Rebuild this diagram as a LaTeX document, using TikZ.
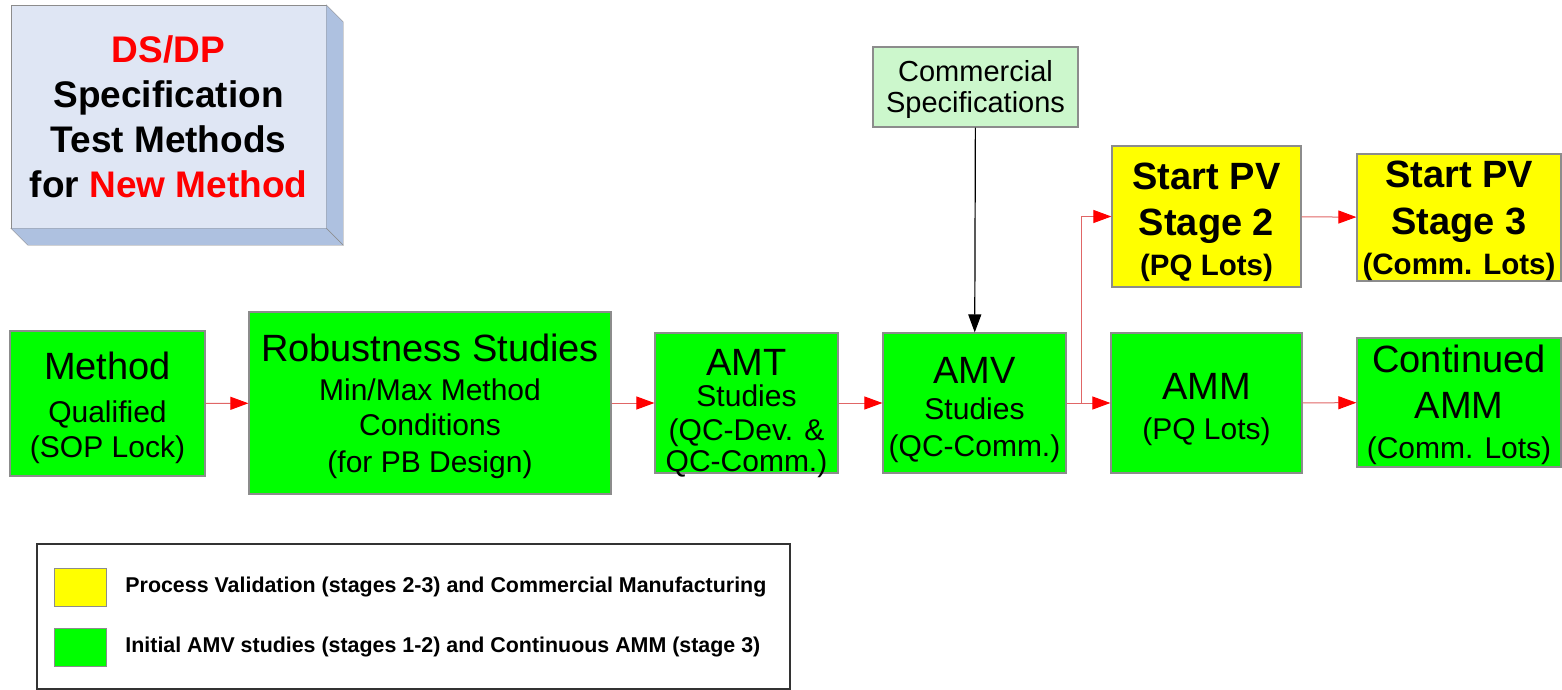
\documentclass[tikz,border=0pt]{standalone}
\usepackage{fontspec}
\setmainfont{Liberation Sans}
\usetikzlibrary{arrows.meta,positioning}

\definecolor{boxgreen}{HTML}{00FF00}
\definecolor{boxyellow}{HTML}{FFFF00}
\definecolor{specgreen}{HTML}{CCF7CC}
\definecolor{frontblue}{HTML}{DFE6F4}
\definecolor{sideblue}{HTML}{AEC1E0}
\definecolor{edgegray}{HTML}{8C8C8C}
\definecolor{linkred}{HTML}{E06666}

\newcommand{\bigline}{\fontsize{38}{38}\selectfont}
\newcommand{\lift}[1]{\rule{0pt}{#1}}

\begin{document}
\begin{tikzpicture}[x=1pt, y=-1pt, node distance=19pt,
    stage/.style={draw=edgegray, line width=1.2pt, fill=boxgreen, align=center,
        inner sep=0pt, font=\fontsize{30}{35}\selectfont},
    pvstage/.style={stage, fill=boxyellow, font=\bfseries\fontsize{29.5}{40}\selectfont},
    flow/.style={draw=linkred, line width=1pt, -{Triangle[length=18pt,width=13pt,color=red]}},
    feed/.style={draw=black, line width=1.2pt, -{Triangle[length=18pt,width=13pt]}},
    key/.style={draw=edgegray, minimum width=52pt, minimum height=38pt, inner sep=0pt},
    keytext/.style={font=\bfseries\fontsize{21.4}{24}\selectfont, inner sep=0pt}]
    \useasboundingbox (0,0) rectangle (1562,690);

    % title block
    \node (title) [draw=edgegray, fill=frontblue, minimum width=315pt, minimum height=223pt,
        align=center, font=\bfseries\fontsize{37}{45}\selectfont] at (168.5,116.5)
        {\textcolor{red}{DS/DP}\\ Specification\\ Test Methods\\ for \textcolor{red}{New Method}};
    \path[draw=edgegray, fill=sideblue] (title.north east) -- ++(17,17)
        -- ([shift={(17,17)}]title.south east) -- (title.south east) -- cycle;
    \path[draw=edgegray, fill=sideblue] (title.south west) -- ++(17,17)
        -- ([shift={(17,17)}]title.south east) -- (title.south east) -- cycle;

    \node (spec) [stage, fill=specgreen, font=\fontsize{29}{31}\selectfont,
        minimum width=205pt, minimum height=80pt] at (975.5,87) {\lift{26pt}Commercial\\ Specifications};

    % main flow
    \node (method) [stage, minimum width=195pt, minimum height=145pt] at (107.5,403.5)
        {{\bigline\lift{36pt}Method}\\[8pt] Qualified\\ (SOP Lock)};
    \node (robust) [stage, minimum width=362pt, minimum height=182pt] at (430,403)
        {{\bigline\lift{34pt}Robustness Studies}\\[4pt] Min/Max Method\\ Conditions\\[2pt] (for PB Design)};
    \node (amt) [stage, minimum width=183pt, minimum height=140pt] at (746.5,403)
        {{\bigline\lift{41pt}AMT}\\[-4pt] Studies\\[-1pt] (QC-Dev. \&\\[-4pt] \raisebox{0pt}[\height][0pt]{QC-Comm.)}};
    \node (amv) [stage, minimum width=183pt, minimum height=140pt] at (974.5,403)
        {{\bigline\lift{40pt}AMV}\\[1pt] Studies\\[2pt] (QC-Comm.)};
    \node (amm) [stage, minimum width=191pt, minimum height=140pt] at (1206.5,403)
        {{\bigline\lift{40pt}AMM}\\[5pt] (PQ Lots)};
    \node (camm) [stage, minimum width=204pt, minimum height=129pt] at (1459,402.5)
        {{\bigline\lift{32pt}Continued}\\[11pt] {\bigline AMM}\\[5pt] (Comm. Lots)};

    % process validation
    \node (pvtwo) [pvstage, minimum width=189pt, minimum height=141pt] at (1206.5,216.5)
        {{\bigline\lift{38pt}Start PV}\\[6pt] {\bigline Stage 2}\\ (PQ Lots)};
    \node (pvthree) [pvstage, minimum width=204pt, minimum height=127pt] at (1459,217.5)
        {{\bigline\lift{34pt}Start PV}\\[7pt] {\bigline Stage 3}\\ (Comm. Lots)};

    \coordinate (fork) at (1081,403);

    \draw[flow] (method) -- (robust);
    \draw[flow] (robust) -- (amt);
    \draw[flow] (amt) -- (amv);
    \draw[flow] (amv) -- (amm);
    \draw[flow] (fork) |- (pvtwo);
    \draw[flow] (pvtwo) -- (pvthree);
    \draw[flow] (amm) -- (camm);
    \draw[feed] (spec) -- (amv);

    % legend
    \node (legend) [draw=black!80, line width=1.3pt, minimum width=753pt, minimum height=145pt]
        at (413.5,616.5) {};
    \node (ykey) [key, fill=boxyellow] at (80,587) {};
    \node (gkey) [key, fill=boxgreen, below=22pt of ykey] {};
    \node (ytext) [keytext, right=19pt of ykey] {Process Validation (stages 2-3) and Commercial Manufacturing};
    \node (gtext) [keytext, right=19pt of gkey] {Initial AMV studies (stages 1-2) and Continuous AMM (stage 3)};
\end{tikzpicture}
\end{document}
